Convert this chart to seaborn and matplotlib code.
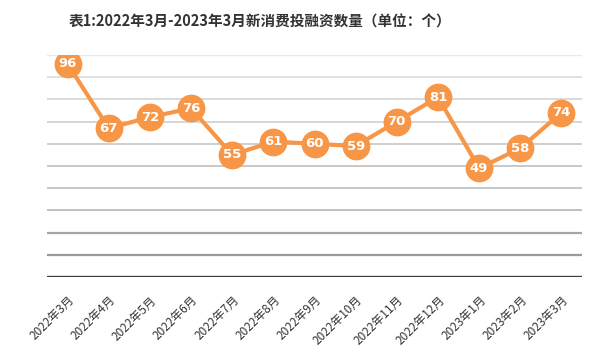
import numpy as np
import pandas as pd
import matplotlib
matplotlib.use("Agg")
import matplotlib.pyplot as plt
import seaborn as sns

# monthly counts of new-consumer financing deals
months = ["2022年3月", "2022年4月", "2022年5月", "2022年6月", "2022年7月",
          "2022年8月", "2022年9月", "2022年10月", "2022年11月", "2022年12月",
          "2023年1月", "2023年2月", "2023年3月"]
counts = [96, 67, 72, 76, 55, 61, 60, 59, 70, 81, 49, 58, 74]
grid_levels = [10, 20, 30, 40, 50, 60, 70, 80, 90, 100]

title = "表1:2022年3月-2023年3月新消费投融资数量（单位：个）"

sns.set_style("white")
plt.rcParams["font.family"] = ["Noto Sans CJK SC", "DejaVu Sans"]

df = pd.DataFrame({"idx": np.arange(len(months)), "month": months, "count": counts})

fig = plt.figure(figsize=(6.01, 3.61), dpi=100)
ax = fig.add_axes([47 / 601, 1 - 277 / 361, 535 / 601, 222 / 361])

# gridlines get darker toward the bottom
grid_colors = ["#999999", "#a6a6a6", "#b4b4b4", "#bfbfbf", "#c8c8c8",
               "#cfcfcf", "#d6d6d6", "#dadada", "#e0e0e0", "#e8e8e8"]
grid_widths = [1.6, 1.6, 1.2, 1.2, 1.4, 1.4, 1.4, 1.4, 1.4, 1.0]
for lvl, c, w in zip(grid_levels, grid_colors, grid_widths):
    ax.axhline(lvl, color=c, lw=w, zorder=0)
ax.axhline(0, color="#404040", lw=2.4, zorder=1)

orange = "#F79646"
sns.lineplot(data=df, x="idx", y="count", ax=ax, color=orange, linewidth=3,
             marker="o", markersize=20, markeredgewidth=0, zorder=3)

for i, v in zip(df["idx"], df["count"]):
    ax.text(i, v, str(v), color="white", fontsize=9.5, fontweight="bold",
            ha="center", va="center", zorder=4, family="DejaVu Sans")

ax.set_xlim(-0.5, len(months) - 0.5)
ax.set_ylim(0, 100)
ax.set_xticks(df["idx"])
ax.set_xticklabels(months, rotation=45, ha="right", rotation_mode="anchor",
                   fontsize=8.5, color="#333333")
ax.tick_params(axis="x", length=0, pad=12)
ax.set_yticks([])
ax.set_xlabel("")
ax.set_ylabel("")
sns.despine(ax=ax, left=True, bottom=True)

fig.text(260 / 601, 1 - 22 / 361, title, ha="center", va="center",
         fontsize=10.5, fontweight="bold", color="#333333")

fig.savefig("out.png", dpi=100)
